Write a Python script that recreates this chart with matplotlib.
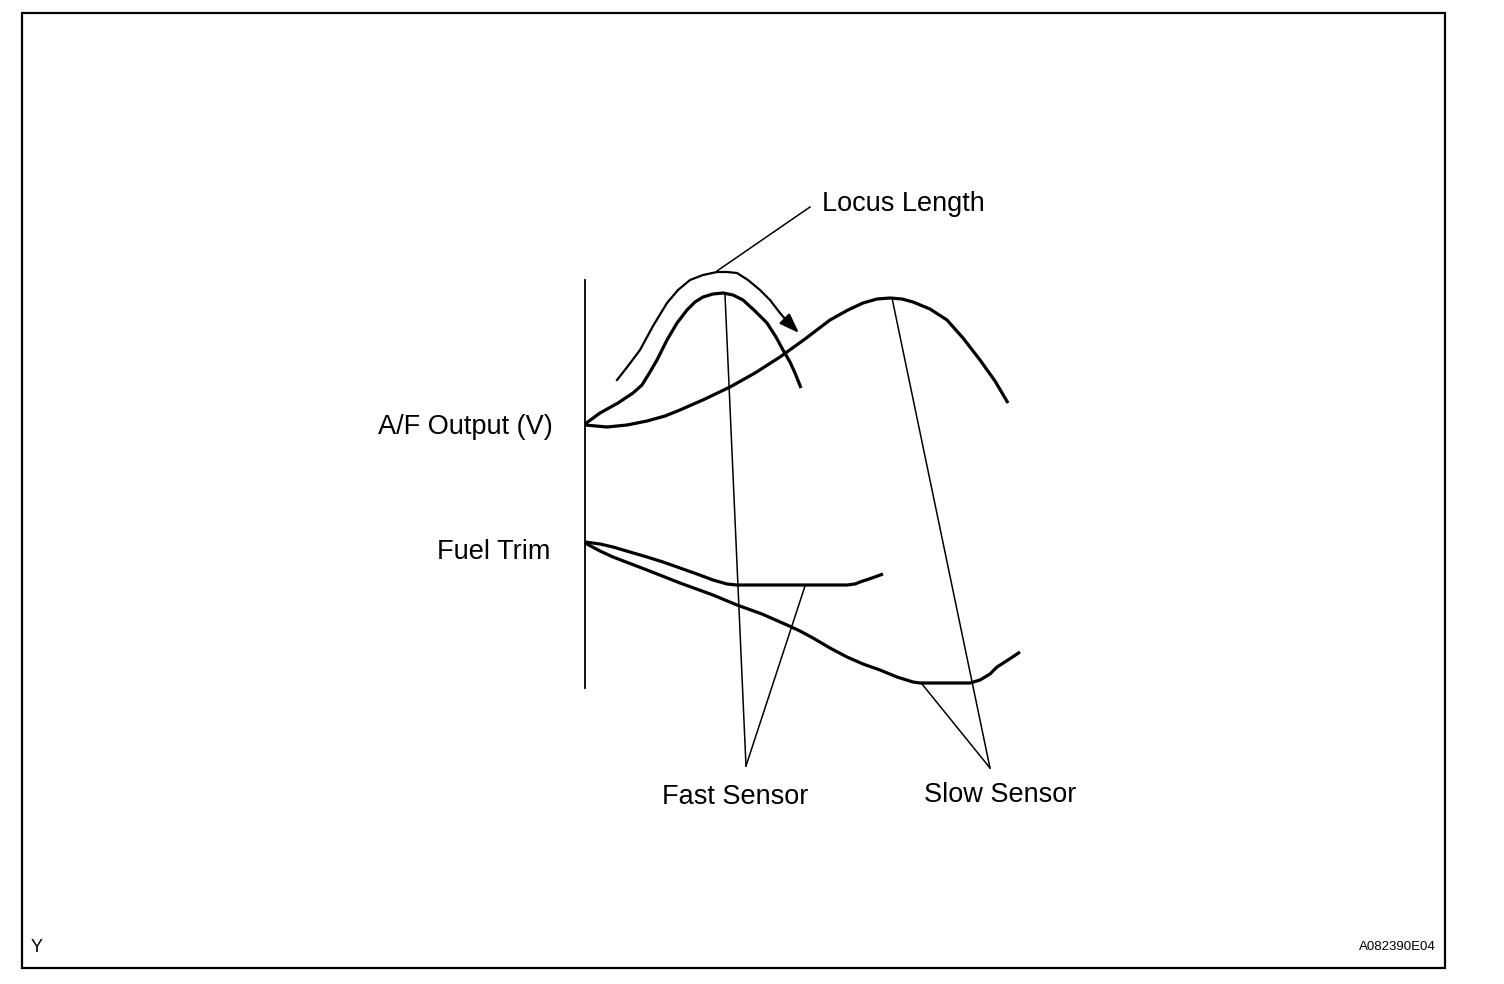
import matplotlib
matplotlib.use("Agg")
from matplotlib import pyplot as plt
from matplotlib.patches import Rectangle

plt.rcParams['font.family'] = ['Liberation Sans', 'DejaVu Sans']

# curves, in pixel coordinates (x, y down)
af_fast_x = [585, 600, 618, 633, 642, 650, 657, 667, 677, 687, 695, 703, 713, 723, 733, 743, 755, 767, 776, 783, 790, 795, 801]
af_fast_y = [424, 413, 403, 393, 385, 372, 360, 340, 323, 310, 302, 297, 294, 293, 295, 300, 311, 323, 337, 350, 362, 373, 388]

af_slow_x = [585, 596, 607, 627, 647, 665, 680, 705, 730, 755, 780, 805, 830, 848, 863, 877, 890, 902, 913, 930, 947, 963, 980, 995, 1008]
af_slow_y = [425, 426, 427, 425, 421, 416, 410, 399, 387, 373, 357, 339, 320, 310, 303, 299, 298, 299, 302, 309, 320, 338, 360, 381, 403]

locus_x = [617, 628, 640, 653, 667, 678, 690, 703, 717, 727, 737, 748, 760, 770, 780, 786]
locus_y = [380, 366, 350, 326, 303, 290, 280, 275, 272, 272, 273, 280, 290, 300, 313, 320]
locus_tip = (799, 333)

ft_fast_x = [585, 600, 613, 630, 647, 663, 680, 697, 713, 727, 737, 780, 820, 847, 855, 860, 872, 883]
ft_fast_y = [542, 544, 547, 552, 557, 562, 568, 574, 580, 584, 585, 585, 585, 585, 584, 582, 578, 574]

ft_slow_x = [585, 600, 613, 647, 680, 713, 737, 762, 787, 800, 813, 830, 847, 863, 880, 897, 913, 920, 945, 970, 980, 990, 997, 1008, 1020]
ft_slow_y = [543, 551, 557, 570, 583, 595, 605, 614, 625, 631, 638, 648, 657, 664, 670, 677, 682, 683, 683, 683, 680, 674, 667, 660, 652]

labels = ["A/F Output (V)", "Fuel Trim", "Locus Length", "Fast Sensor", "Slow Sensor"]

fig = plt.figure(figsize=(15.04, 9.84), dpi=100)
ax = fig.add_axes([0, 0, 1, 1])
ax.set_xlim(0, 1504)
ax.set_ylim(984, 0)
ax.axis('off')

# outer frame
ax.add_patch(Rectangle((22, 13), 1423, 955, fill=False, lw=1.6, ec='black'))

# vertical axis
ax.plot([585, 585], [280, 688], color='black', lw=1.3)

# thick curves
for xs, ys in [(af_fast_x, af_fast_y), (af_slow_x, af_slow_y),
               (ft_fast_x, ft_fast_y), (ft_slow_x, ft_slow_y)]:
    ax.plot(xs, ys, color='black', lw=2.3, solid_capstyle='butt', solid_joinstyle='round')

# locus arrow
ax.plot(locus_x, locus_y, color='black', lw=1.6, solid_joinstyle='round')
ax.annotate('', xy=locus_tip, xytext=(locus_x[-1], locus_y[-1]),
            arrowprops=dict(arrowstyle='-|>,head_length=0.5,head_width=0.18', mutation_scale=24,
                            color='black', lw=1.6, shrinkA=0, shrinkB=0))

# leader lines
ax.plot([717, 810], [271, 207], color='black', lw=1.1)
ax.plot([725, 746], [295, 766], color='black', lw=1.1)
ax.plot([805, 746], [586, 766], color='black', lw=1.1)
ax.plot([892, 990], [298, 768], color='black', lw=1.1)
ax.plot([922, 990], [684, 768], color='black', lw=1.1)

fs = 19.5
ax.text(553, 427, labels[0], ha='right', va='center', fontsize=fs)
ax.text(550, 552, labels[1], ha='right', va='center', fontsize=fs)
ax.text(822, 204, labels[2], ha='left', va='center', fontsize=fs)
ax.text(735, 797, labels[3], ha='center', va='center', fontsize=fs)
ax.text(1000, 795, labels[4], ha='center', va='center', fontsize=fs)

ax.text(31, 947, "Y", ha='left', va='center', fontsize=13)
ax.text(1436, 947, "A082390E04", ha='right', va='center', fontsize=9.5)

fig.savefig('out.png', dpi=100)
